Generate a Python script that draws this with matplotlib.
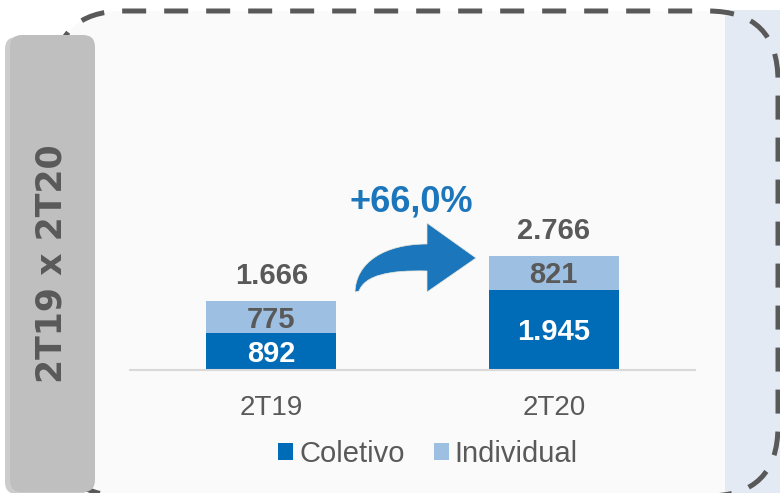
import matplotlib
matplotlib.use('Agg')
import matplotlib.pyplot as plt
import matplotlib.patches as mpatches
from matplotlib.path import Path

# ── Dados ──
categorias = ['2T19', '2T20']
coletivo = [892, 1945]
individual = [775, 821]
totais = [1666, 2766]
variacao = '+66,0%'
titulo_lateral = '2T19 x 2T20'

COR_COLETIVO = '#006BB6'
COR_INDIVIDUAL = '#9DC0E2'
COR_TEXTO = '#595959'
COR_SETA = '#1C76BC'

plt.rcParams['font.family'] = ['Liberation Sans', 'DejaVu Sans']

W, H = 780, 493
fig = plt.figure(figsize=(W / 100, H / 100), dpi=100)
fig.patch.set_facecolor('white')
tr = fig.dpi_scale_trans


def px(x, y):
    # pixel (origem no topo) -> polegadas
    return x / 100, (H - y) / 100


def fmt(v):
    return f'{v:,}'.replace(',', '.')


# ── Fundo ──
x0, y0 = px(54, 496)
fig.patches.append(mpatches.FancyBboxPatch(
    (x0, y0), 7.24, 4.85, boxstyle='round,pad=0,rounding_size=0.7',
    fc='#FAFAFA', ec='none', transform=tr, zorder=-2))
x0, y0 = px(725, 493)
fig.patches.append(mpatches.Rectangle(
    (x0, y0), 0.55, 4.83, fc='#E4EAF4', ec='none', transform=tr, zorder=-1))

# borda tracejada
x0, y0 = px(54, 496)
fig.patches.append(mpatches.FancyBboxPatch(
    (x0, y0), 7.24, 4.85, boxstyle='round,pad=0,rounding_size=0.7',
    fill=False, ec='#595959', lw=3.6, ls=(0, (4.8, 3.6)),
    transform=tr, zorder=1))

# caixa cinza lateral com sombra
x0, y0 = px(10, 492)
fig.patches.append(mpatches.FancyBboxPatch(
    (x0 - 0.05, y0 - 0.02), 0.85, 4.57, boxstyle='round,pad=0,rounding_size=0.12',
    fc='#9A9A9A', ec='none', alpha=0.5, transform=tr, zorder=2))
fig.patches.append(mpatches.FancyBboxPatch(
    (x0, y0), 0.85, 4.57, boxstyle='round,pad=0,rounding_size=0.12',
    fc='#BFBFBF', ec='none', transform=tr, zorder=3))
tx, ty = px(52, 264)
fig.text(tx, ty, titulo_lateral, transform=tr, rotation=90, ha='center',
         va='center', fontsize=25, fontweight='bold', color=COR_TEXTO,
         family='DejaVu Sans', zorder=4)

# ── Gráfico de barras ──
ax = fig.add_axes([130 / W, 123 / H, 565 / W, 310 / H])
ax.set_zorder(2)
ax.set_facecolor('none')
xs = range(len(categorias))
ax.bar(xs, coletivo, width=0.46, color=COR_COLETIVO, zorder=2)
ax.bar(xs, individual, width=0.46, bottom=coletivo, color=COR_INDIVIDUAL, zorder=2)

rotulo = dict(ha='center', va='center', fontsize=21, fontweight='bold',
              textcoords='offset points', zorder=3)
for i, (c, ind, t) in enumerate(zip(coletivo, individual, totais)):
    ax.annotate(fmt(c), (i, c / 2), xytext=(0, -1.8), color='white', **rotulo)
    ax.annotate(fmt(ind), (i, c + ind / 2), xytext=(0, -1.8), color=COR_TEXTO, **rotulo)
    ax.annotate(fmt(t), (i, c + ind), xytext=(0, 18), color=COR_TEXTO, **rotulo)

ax.set_xlim(-0.5, 1.5)
ax.set_ylim(0, 310 / 0.0412)
ax.set_xticks(list(xs))
ax.set_xticklabels(categorias)
ax.set_yticks([])
ax.tick_params(axis='x', length=0, pad=18, labelsize=20, labelcolor=COR_TEXTO)
for s in ['top', 'left', 'right']:
    ax.spines[s].set_visible(False)
ax.spines['bottom'].set_color('#D9D9D9')
ax.spines['bottom'].set_linewidth(1.5)

# ── Seta de crescimento ──
pts = [px(355, 292), px(356, 262), px(385, 244), px(427, 244),
       px(427, 223), px(476, 258), px(427, 292), px(427, 271),
       px(390, 270), px(365, 275), px(359, 291), px(355, 292)]
codes = [Path.MOVETO, Path.CURVE4, Path.CURVE4, Path.CURVE4,
         Path.LINETO, Path.LINETO, Path.LINETO, Path.LINETO,
         Path.CURVE4, Path.CURVE4, Path.CURVE4, Path.CLOSEPOLY]
fig.patches.append(mpatches.PathPatch(Path(pts, codes), fc=COR_SETA,
                                      ec='#E8E8D8', lw=0.5, transform=tr, zorder=5))
tx, ty = px(411, 202)
fig.text(tx, ty, variacao, transform=tr, ha='center', va='center',
         fontsize=26, fontweight='bold', color=COR_SETA)

# ── Legenda ──
handles = [mpatches.Patch(fc=COR_COLETIVO), mpatches.Patch(fc=COR_INDIVIDUAL)]
fig.legend(handles, ['Coletivo', 'Individual'], loc='center',
           bbox_to_anchor=(428 / W, 1 - 454 / H), ncol=2, frameon=False,
           fontsize=21, handlelength=0.52, handleheight=0.52,
           handletextpad=0.2, columnspacing=1.0, labelcolor=COR_TEXTO)

fig.savefig('out.png', dpi=100, facecolor='white')
